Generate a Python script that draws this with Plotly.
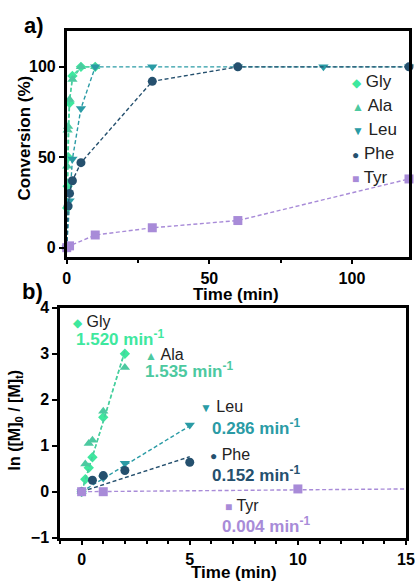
import plotly.graph_objects as go

# ---------------- data ----------------
names = ["Gly", "Ala", "Leu", "Phe", "Tyr"]
colors = ["#3EE89E", "#4CC9A0", "#2A9BA5", "#25506E", "#A88BD8"]
symbols = ["diamond", "triangle-up", "triangle-down", "circle", "square"]
sizes = [8, 9, 9, 9, 9]

# panel a: conversion (%) vs time (min)
conv_t = {
    "Gly": [0, 0.17, 0.33, 0.5, 1, 2, 5, 10],
    "Ala": [0, 0.17, 0.33, 0.5, 1, 2, 5, 10],
    "Leu": [0, 1, 2, 5, 10, 30, 60, 90, 120],
    "Phe": [0, 0.5, 1, 2, 5, 30, 60, 120],
    "Tyr": [0, 1, 10, 30, 60, 120],
}
conv_y = {
    "Gly": [0, 22, 34, 50, 80, 95, 100, 100],
    "Ala": [0, 45, 65, 67, 82, 93, 100, 100],
    "Leu": [0, 26, 49, 77, 100, 100, 100, 100, 100],
    "Phe": [0, 23, 30, 37, 47, 92, 100, 100],
    "Tyr": [0, 1, 7, 11, 15, 38],
}

# panel b: ln([M]0/[M]t) vs time (min)
ln_t = {
    "Gly": [0, 0.17, 0.33, 0.5, 1, 2],
    "Ala": [0, 0.17, 0.33, 0.5, 1, 2],
    "Leu": [0, 1, 2, 5],
    "Phe": [0, 0.5, 1, 2, 5],
    "Tyr": [0, 1, 10],
}
ln_y = {
    "Gly": [0, 0.27, 0.52, 0.75, 1.62, 3.0],
    "Ala": [0, 0.6, 1.05, 1.12, 1.75, 2.7],
    "Leu": [0, 0.3, 0.62, 1.45],
    "Phe": [0, 0.25, 0.35, 0.46, 0.64],
    "Tyr": [0, 0, 0.06],
}
# linear fits (through origin), rate constants
rates = {"Gly": 1.520, "Ala": 1.535, "Leu": 0.286, "Phe": 0.152, "Tyr": 0.004}
fit_t = {"Gly": [0, 2], "Ala": [0, 2], "Leu": [0, 5], "Phe": [0, 5], "Tyr": [0, 15]}
fit_y = {"Gly": [0, 3.04], "Ala": [0, 3.07], "Leu": [0, 1.43], "Phe": [0, 0.76], "Tyr": [0, 0.06]}

# label anchor positions in panel b (data coords)
lab_x = {"Gly": -0.5, "Ala": 2.85, "Leu": 5.4, "Phe": 5.83, "Tyr": 6.53}
lab_y = {"Gly": 3.70, "Ala": 2.98, "Leu": 1.85, "Phe": 0.80, "Tyr": -0.30}
rate_x = {"Gly": -0.35, "Ala": 2.85, "Leu": 5.93, "Phe": 5.93, "Tyr": 6.38}
rate_y = {"Gly": 3.35, "Ala": 2.64, "Leu": 1.41, "Phe": 0.38, "Tyr": -0.73}

FONT = "Liberation Sans, Arial, sans-serif"
DASH = "4px,2.5px"

fig = go.Figure()

for n, c, s, sz in zip(names, colors, symbols, sizes):
    fig.add_trace(go.Scatter(
        x=conv_t[n], y=conv_y[n], mode="lines+markers", name=n,
        line=dict(color=c, width=1.4, dash=DASH),
        marker=dict(color=c, symbol=s, size=sz),
        xaxis="x", yaxis="y", showlegend=False, cliponaxis=False))

for n, c, s, sz in zip(names, colors, symbols, sizes):
    fig.add_trace(go.Scatter(
        x=fit_t[n], y=fit_y[n], mode="lines",
        line=dict(color=c, width=1.4, dash=DASH),
        xaxis="x2", yaxis="y2", showlegend=False, cliponaxis=False))
    fig.add_trace(go.Scatter(
        x=ln_t[n], y=ln_y[n], mode="markers", name=n,
        marker=dict(color=c, symbol=s, size=sz),
        xaxis="x2", yaxis="y2", showlegend=False, cliponaxis=False))

W, H = 415, 581
def xd(a, b):
    return [a / W, b / W]
def yd(top, bot):
    return [1 - bot / H, 1 - top / H]

axis_common = dict(
    showline=True, linewidth=2.5, linecolor="black", mirror=True,
    ticks="outside", ticklen=5, tickwidth=2, tickcolor="black",
    showgrid=False, zeroline=False, automargin=False,
    tickfont=dict(family=FONT, size=16, color="black", weight="bold"),
)

fig.update_layout(
    width=W, height=H,
    margin=dict(l=0, r=0, t=0, b=0, autoexpand=False),
    paper_bgcolor="white", plot_bgcolor="white",
    font=dict(family=FONT, color="black"),
    showlegend=False,
    xaxis=dict(domain=xd(66.7, 409), range=[0, 120], tickvals=[0, 50, 100],
               minor=dict(tickvals=[25, 75], ticks="outside", ticklen=4, tickwidth=2, tickcolor="black"),
               anchor="y", **axis_common),
    yaxis=dict(domain=yd(30.7, 256.7), range=[-5, 120], tickvals=[0, 50, 100],
               anchor="x", **axis_common),
    xaxis2=dict(domain=xd(60, 406), range=[-1, 15], tickvals=[0, 5, 10, 15],
                minor=dict(dtick=1, ticks="outside", ticklen=4, tickwidth=2, tickcolor="black"),
                anchor="y2", **axis_common),
    yaxis2=dict(domain=yd(307.7, 537.7), range=[-1, 4], tickvals=[-1, 0, 1, 2, 3, 4],
                anchor="x2", **axis_common),
)

glyph = {"diamond": "◆", "triangle-up": "▲", "triangle-down": "▼", "circle": "●", "square": "■"}

def ptext(x, y, text, size, angle=0, anchor="center"):
    return dict(x=x / W, y=1 - y / H, xref="paper", yref="paper", text=text,
                showarrow=False, xanchor=anchor, yanchor="middle", textangle=angle,
                font=dict(family=FONT, size=size, color="black"))

anns = [
    ptext(22, 25, "<b>a)</b>", 22, anchor="left"),
    ptext(20, 291, "<b>b)</b>", 22, anchor="left"),
    ptext(236, 294.5, "<b>Time (min)</b>", 17),
    ptext(234, 572, "<b>Time (min)</b>", 17),
    ptext(24.5, 138, "<b>Conversion (%)</b>", 17, angle=-90),
    ptext(14.5, 420, "<b>ln ([M]<sub>0</sub> / [M]<sub>t</sub>)</b>", 16, angle=-90),
]
# panel a legend (as text)
for i, (n, c, s) in enumerate(zip(names, colors, symbols)):
    anns.append(dict(
        x=350 / W, y=1 - (81 + 24.2 * i) / H, xref="paper", yref="paper",
        xanchor="left", yanchor="middle",
        text=f"<span style='color:{c};font-size:12px'>{glyph[s]}</span> {n}",
        showarrow=False, font=dict(family=FONT, size=17, color="#222")))

for n, c, s in zip(names, colors, symbols):
    anns.append(dict(
        x=lab_x[n], y=lab_y[n], xref="x2", yref="y2", xanchor="left", yanchor="middle",
        text=f"<span style='color:{c};font-size:12px'>{glyph[s]}</span> {n}",
        showarrow=False, font=dict(family=FONT, size=16, color="#222")))
    anns.append(dict(
        x=rate_x[n], y=rate_y[n], xref="x2", yref="y2", xanchor="left", yanchor="middle",
        text=f"<b>{rates[n]:.3f} min<sup>-1</sup></b>",
        showarrow=False, font=dict(family=FONT, size=17, color=c)))
fig.update_layout(annotations=anns)

fig.write_html("out.html", config={"displayModeBar": False},
               post_script="document.body.style.margin='0px';")
